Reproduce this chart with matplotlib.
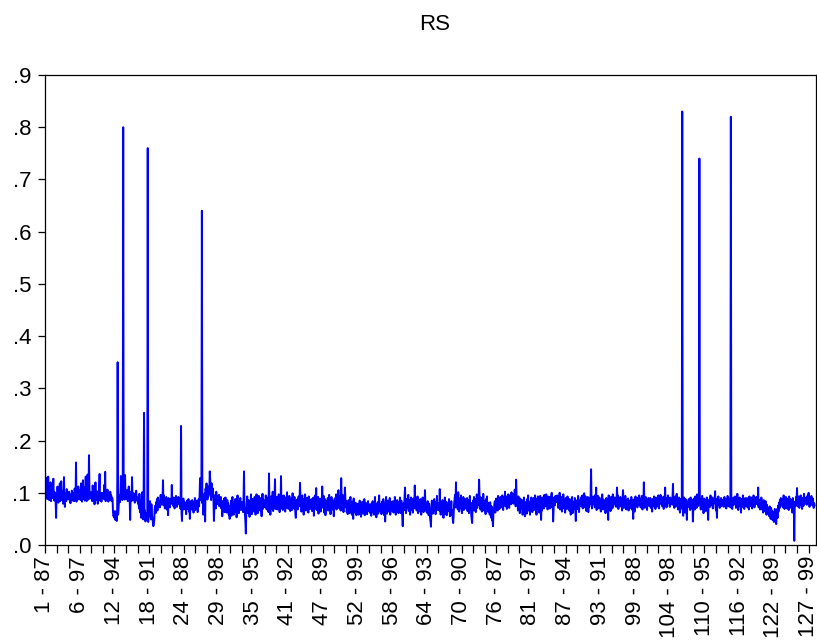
import numpy as np
import matplotlib
matplotlib.use("Agg")
import matplotlib.pyplot as plt

# RS series, values in thousandths, 25 observations per row (128 cross-sections x 13 years)
rs_milli = [
    142, 118, 95, 128, 104, 88, 112, 131, 97, 86, 109, 92, 120, 84, 99, 115, 90, 103, 127, 93, 85, 101, 96, 83, 52,
    98, 87, 112, 94, 81, 106, 90, 118, 84, 97, 122, 92, 86, 103, 79, 95, 130, 88, 73, 99, 92, 84, 107, 90, 96,
    88, 95, 102, 86, 92, 80, 97, 89, 104, 93, 85, 99, 91, 84, 108, 95, 90, 158, 83, 101, 94, 87, 112, 96, 89,
    92, 105, 86, 118, 94, 83, 99, 124, 88, 97, 110, 85, 102, 131, 90, 84, 96, 135, 91, 87, 172, 108, 98, 89, 94,
    101, 93, 84, 114, 97, 88, 106, 78, 95, 120, 90, 86, 103, 92, 79, 98, 88, 110, 136, 85, 97, 91, 83, 100, 92,
    96, 99, 88, 115, 92, 140, 84, 101, 95, 87, 106, 90, 83, 97, 93, 86, 102, 89, 95, 84, 91, 88, 62, 55, 58,
    52, 65, 48, 55, 61, 46, 70, 350, 58, 72, 88, 95, 82, 99, 132, 91, 104, 86, 110, 800, 93, 118, 87, 134, 92,
    96, 88, 105, 91, 84, 99, 112, 93, 86, 48, 91, 102, 84, 130, 96, 90, 86, 99, 93, 81, 95, 88, 104, 92, 85,
    86, 79, 92, 70, 98, 84, 62, 67, 52, 72, 101, 58, 49, 74, 253, 58, 66, 45, 52, 61, 48, 57, 760, 44, 63,
    71, 55, 84, 62, 49, 78, 58, 52, 44, 36, 39, 47, 68, 75, 61, 82, 70, 88, 66, 91, 74, 85, 79, 72, 83,
    96, 77, 84, 92, 88, 124, 76, 95, 81, 70, 86, 79, 92, 68, 74, 83, 57, 90, 77, 85, 72, 88, 81, 79, 115,
    80, 88, 75, 91, 83, 70, 86, 78, 94, 81, 73, 87, 79, 92, 84, 90, 76, 82, 69, 228, 62, 46, 81, 74, 89,
    68, 83, 77, 72, 81, 59, 78, 85, 69, 76, 88, 64, 80, 50, 73, 84, 77, 68, 86, 71, 79, 62, 83, 75, 90,
    67, 78, 85, 70, 82, 63, 78, 88, 74, 93, 128, 86, 96, 104, 640, 80, 92, 58, 71, 84, 99, 45, 108, 90, 118,
    96, 87, 105, 93, 112, 98, 141, 125, 104, 86, 118, 92, 97, 108, 88, 46, 75, 95, 84, 70, 102, 89, 78, 93, 85,
    83, 96, 74, 88, 78, 92, 70, 85, 55, 67, 81, 74, 89, 63, 79, 91, 72, 62, 76, 86, 68, 80, 58, 74, 50,
    71, 62, 85, 56, 78, 92, 66, 74, 58, 82, 70, 88, 64, 77, 53, 80, 95, 69, 76, 61, 84, 72, 90, 67, 79,
    68, 82, 74, 63, 89, 141, 74, 58, 44, 22, 67, 80, 93, 61, 75, 86, 70, 54, 82, 66, 97, 73, 59, 88, 76,
    79, 88, 64, 92, 75, 58, 83, 97, 70, 86, 61, 78, 94, 72, 85, 66, 90, 76, 55, 83, 98, 69, 87, 74, 81,
    84, 72, 95, 80, 68, 91, 77, 86, 63, 137, 74, 82, 58, 93, 79, 70, 88, 102, 65, 84, 76, 91, 126, 69, 87,
    78, 92, 68, 85, 74, 97, 81, 63, 89, 76, 132, 70, 84, 93, 67, 80, 95, 72, 86, 64, 91, 78, 83, 101, 70,
    76, 88, 69, 94, 81, 65, 85, 73, 90, 67, 99, 79, 86, 70, 92, 77, 61, 52, 84, 72, 87, 68, 80, 93, 74,
    82, 119, 91, 77, 64, 86, 95, 72, 80, 58, 88, 74, 97, 83, 66, 79, 90, 71, 85, 62, 93, 78, 87, 69, 84,
    76, 88, 65, 82, 73, 91, 56, 84, 70, 95, 79, 109, 67, 86, 74, 92, 60, 81, 72, 89, 77, 64, 85, 80, 112,
    83, 71, 94, 62, 79, 88, 57, 75, 69, 84, 73, 90, 66, 81, 96, 70, 86, 59, 78, 92, 74, 85, 68, 80, 55,
    77, 89, 72, 84, 97, 68, 87, 91, 76, 105, 82, 70, 93, 79, 66, 128, 88, 74, 96, 81, 63, 85, 78, 110, 90,
    72, 84, 63, 78, 59, 69, 86, 75, 61, 80, 92, 67, 74, 58, 83, 70, 50, 89, 65, 77, 62, 81, 73, 57, 79,
    68, 66, 79, 58, 73, 85, 62, 70, 54, 77, 68, 83, 60, 74, 65, 88, 57, 72, 81, 63, 76, 59, 70, 84, 67,
    75, 64, 78, 61, 73, 56, 80, 69, 84, 62, 75, 58, 71, 92, 66, 79, 53, 74, 68, 82, 60, 77, 95, 70, 64,
    65, 78, 59, 83, 70, 62, 88, 74, 57, 81, 45, 67, 92, 72, 60, 79, 85, 64, 76, 69, 90, 58, 73, 83, 66,
    77, 71, 84, 62, 78, 66, 92, 74, 58, 80, 70, 86, 63, 75, 61, 82, 68, 91, 73, 61, 85, 66, 55, 36, 72,
    80, 67, 94, 110, 74, 61, 88, 76, 82, 70, 96, 65, 79, 86, 58, 73, 91, 68, 84, 77, 62, 89, 75, 70, 114,
    83, 72, 85, 66, 79, 93, 61, 76, 70, 82, 64, 88, 74, 58, 80, 69, 91, 77, 63, 86, 72, 105, 78, 66, 74,
    62, 75, 84, 68, 57, 79, 66, 52, 45, 35, 73, 85, 70, 60, 81, 74, 88, 65, 77, 59, 83, 71, 94, 67, 76,
    80, 78, 66, 107, 72, 58, 81, 70, 63, 86, 74, 52, 79, 68, 91, 60, 75, 83, 57, 71, 64, 80, 69, 88, 73,
    55, 73, 62, 84, 58, 66, 49, 42, 57, 79, 88, 96, 72, 120, 84, 72, 93, 68, 101, 77, 64, 89, 82, 70, 95,
    75, 61, 86, 78, 92, 67, 81, 74, 88, 70, 83, 72, 90, 65, 78, 86, 61, 76, 94, 68, 81, 57, 50, 42, 70,
    85, 74, 92, 66, 79, 88, 63, 76, 97, 71, 84, 77, 89, 125, 95, 82, 68, 91, 76, 64, 87, 73, 98, 80, 66,
    84, 72, 59, 88, 75, 93, 69, 81, 63, 78, 70, 58, 82, 65, 52, 74, 47, 55, 36, 61, 68, 78, 84, 62, 73,
    89, 70, 81, 66, 94, 75, 87, 69, 80, 92, 79, 88, 72, 95, 83, 67, 91, 78, 86, 102, 74, 81, 93, 69, 85,
    77, 97, 82, 71, 89, 84, 96, 78, 101, 88, 92, 86, 79, 98, 83, 106, 90, 74, 125, 95, 81, 88, 66, 93, 77,
    85, 61, 89, 75, 82, 70, 86, 58, 79, 64, 91, 73, 55, 82, 68, 77, 60, 88, 72, 95, 66, 80, 74, 58, 84,
    69, 91, 76, 63, 84, 78, 90, 67, 84, 95, 72, 81, 58, 88, 76, 93, 69, 85, 62, 79, 94, 74, 48, 83, 66,
    91, 77, 87, 70, 96, 81, 86, 74, 97, 81, 90, 68, 93, 84, 77, 92, 70, 88, 79, 95, 100, 72, 85, 45, 67,
    91, 80, 76, 94, 82, 88, 82, 95, 92, 71, 88, 76, 100, 68, 85, 79, 92, 64, 81, 74, 97, 70, 86, 78, 62,
    90, 75, 83, 69, 93, 80, 72, 79, 66, 88, 73, 58, 84, 70, 92, 61, 77, 68, 83, 75, 90, 64, 46, 81, 72,
    86, 69, 94, 78, 63, 85, 74, 80, 91, 74, 86, 95, 70, 83, 77, 99, 88, 72, 93, 81, 65, 87, 76, 92, 63,
    84, 73, 90, 79, 96, 145, 82, 70, 88, 85, 93, 78, 89, 72, 96, 81, 110, 67, 88, 75, 94, 83, 70, 91, 79,
    86, 64, 82, 74, 97, 80, 68, 87, 77, 72, 84, 61, 79, 90, 73, 86, 68, 48, 95, 81, 76, 88, 65, 92, 78,
    83, 70, 97, 74, 87, 80, 91, 78, 90, 73, 86, 110, 81, 95, 69, 88, 76, 83, 92, 74, 87, 79, 66, 91, 105,
    84, 71, 89, 77, 94, 82, 68, 86, 80, 73, 89, 66, 84, 77, 71, 86, 79, 92, 68, 83, 75, 50, 87, 78, 64,
    85, 93, 76, 81, 88, 72, 84, 91, 77, 95, 83, 86, 72, 89, 79, 94, 68, 82, 76, 120, 88, 71, 85, 92, 74,
    80, 67, 87, 78, 90, 75, 83, 76, 90, 71, 86, 79, 64, 88, 82, 74, 93, 78, 85, 69, 91, 80, 73, 87, 77,
    95, 84, 70, 89, 81, 96, 85, 78, 92, 74, 88, 81, 69, 93, 83, 110, 76, 90, 72, 87, 79, 95, 84, 80, 86,
    73, 91, 77, 84, 88, 82, 94, 117, 76, 89, 71, 86, 93, 80, 74, 98, 88, 79, 68, 84, 91, 73, 62, 88, 77,
    70, 86, 830, 68, 56, 84, 91, 73, 62, 88, 77, 70, 48, 83, 75, 79, 88, 72, 84, 67, 91, 76, 83, 70, 86,
    45, 74, 89, 80, 68, 93, 77, 85, 71, 97, 82, 90, 75, 86, 740, 92, 81, 68, 87, 76, 94, 70, 83, 61, 89,
    78, 72, 86, 65, 80, 91, 74, 69, 48, 83, 77, 88, 73, 95, 80, 84, 76, 91, 70, 87, 79, 82, 88, 103, 72,
    66, 75, 52, 89, 80, 93, 77, 84, 71, 86, 78, 90, 74, 85, 81, 79, 87, 73, 92, 81, 76, 88, 70, 85, 78,
    94, 83, 74, 89, 77, 86, 72, 820, 95, 80, 69, 88, 76, 91, 83, 78, 93, 85, 71, 89, 76, 98, 82, 67, 87,
    79, 91, 74, 84, 62, 88, 80, 73, 95, 77, 86, 69, 83, 90, 75, 84, 77, 90, 72, 86, 81, 68, 93, 79, 87,
    74, 91, 82, 70, 88, 76, 95, 83, 72, 89, 78, 85, 92, 80, 84, 77, 110, 72, 86, 81, 68, 83, 76, 91, 68,
    80, 73, 62, 86, 71, 79, 65, 84, 69, 58, 77, 63, 72, 60, 68, 55, 74, 62, 50, 71, 58, 66, 48, 63, 53,
    44, 57, 69, 52, 48, 40, 57, 69, 52, 75, 64, 81, 70, 86, 73, 90, 79, 84, 77, 88, 72, 95, 81, 69, 86,
    76, 92, 83, 70, 89, 78, 84, 67, 93, 80, 74, 88, 71, 85, 79, 62, 90, 76, 81, 8, 68, 83, 76, 92, 85,
    109, 74, 88, 79, 93, 71, 86, 80, 95, 77, 84, 69, 90, 82, 75, 98, 86, 79, 88, 84, 91, 77, 86, 95, 82,
    100, 88, 73, 90, 79, 85, 94, 81, 76, 89, 83, 71, 80, 76,
]

x_labels = ["1 - 87", "6 - 97", "12 - 94", "18 - 91", "24 - 88", "29 - 98", "35 - 95",
            "41 - 92", "47 - 89", "52 - 99", "58 - 96", "64 - 93", "70 - 90", "76 - 87",
            "81 - 97", "87 - 94", "93 - 91", "99 - 88", "104 - 98", "110 - 95", "116 - 92",
            "122 - 89", "127 - 99"]
y_ticks = [0.0, 0.1, 0.2, 0.3, 0.4, 0.5, 0.6, 0.7, 0.8, 0.9]
y_labels = [".0", ".1", ".2", ".3", ".4", ".5", ".6", ".7", ".8", ".9"]

rs = np.array(rs_milli) / 1000.0
obs = np.arange(len(rs))

plt.rcParams["font.family"] = ["Liberation Sans", "DejaVu Sans"]

W, H = 817, 641
fig = plt.figure(figsize=(W / 100, H / 100), dpi=100)
ax = fig.add_axes([45 / W, (H - 545) / H, (816 - 45) / W, (545 - 75) / H])

ax.plot(obs, rs, color="#0000ff", lw=1.4)

ax.set_xlim(0, 1666)
ax.set_ylim(0, 0.9)

# tick every 25 obs, label every third tick
minor_pos = np.arange(0, len(rs), 25)
ax.set_xticks(minor_pos)
lab = [""] * len(minor_pos)
for k, s in enumerate(x_labels):
    lab[3 * k] = s
ax.set_xticklabels(lab, rotation=90, fontsize=16)
ax.set_yticks(y_ticks)
ax.set_yticklabels(y_labels, fontsize=16)

ax.tick_params(axis="x", direction="out", length=6, width=0.9, pad=2, colors="black")
ax.tick_params(axis="y", direction="out", length=5, width=0.9, pad=5, colors="black")
for sp in ax.spines.values():
    sp.set_linewidth(0.9)
    sp.set_color("black")

fig.text(435 / W, 1 - 25 / H, "RS", ha="center", va="center", fontsize=16)

fig.savefig("out.png", dpi=100)
